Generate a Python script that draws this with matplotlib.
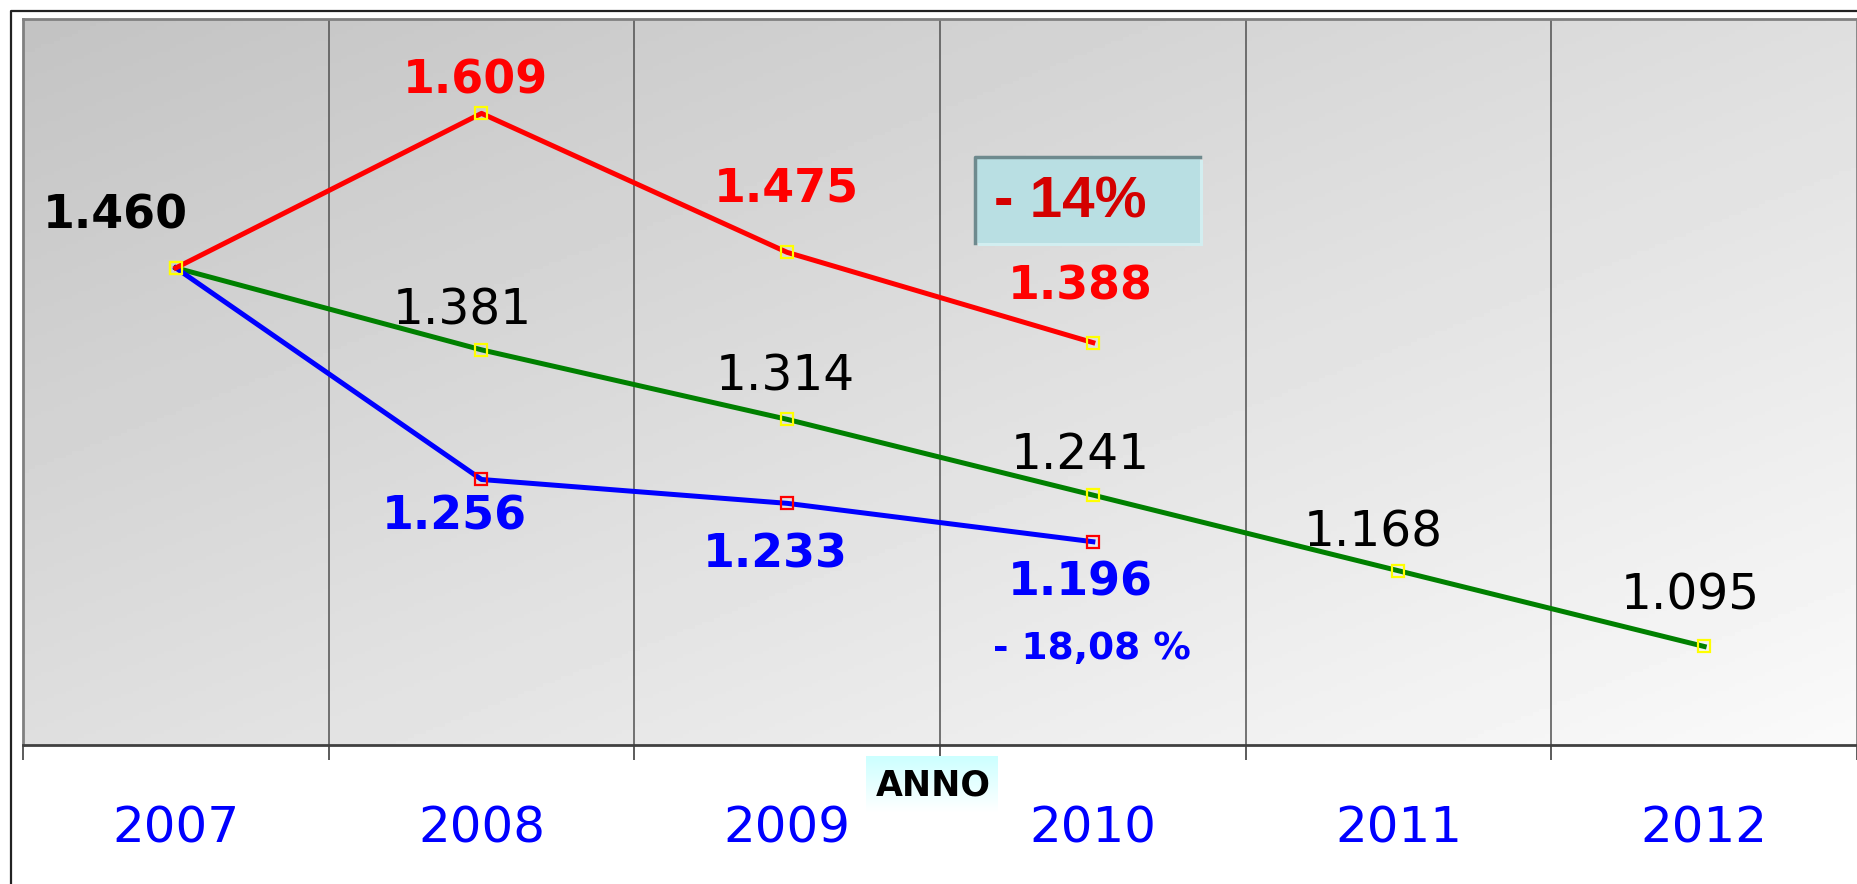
import numpy as np
import matplotlib.pyplot as plt
from matplotlib.patches import Rectangle
from matplotlib.lines import Line2D

plt.rcParams['font.family'] = ['DejaVu Sans']

years = ['2007', '2008', '2009', '2010', '2011', '2012']
red_vals = [1.460, 1.609, 1.475, 1.388]
green_vals = [1.460, 1.381, 1.314, 1.241, 1.168, 1.095]
blue_vals = [1.460, 1.256, 1.233, 1.196]

# label offsets in pixels (dx, dy) from the point
red_off = [None, (-6, 32), (-1, 63), (-13, 56)]
green_off = [(-60, 52), (-19, 39), (-2, 43), (-13, 40), (-25, 38), (-14, 51)]
blue_off = [None, (-27, -38), (-12, -52), (-13, -41)]

W, H = 1858, 884
fig = plt.figure(figsize=(W / 100, H / 100), dpi=100)


def px(x, y):
    return x / W, 1 - y / H


ax = fig.add_axes([23 / W, 1 - 745 / H, (1857 - 23) / W, (745 - 19) / H])
ax.set_xlim(-0.5, 5.5)
ax.set_ylim(1.0, 1.7)

# diagonal grey gradient background, dark top-left -> light bottom-right
gx, gy = np.meshgrid(np.linspace(0, 1, 300), np.linspace(0, 1, 200))
grad = 195 + (gx + gy) / 2 * 55
ax.imshow(grad, cmap='gray', vmin=0, vmax=255, extent=[0, 1, 0, 1], origin='upper',
          transform=ax.transAxes, aspect='auto', zorder=0)

for b in np.arange(0.5, 5.5, 1):
    ax.axvline(b, color='#505050', lw=1.1, zorder=1)

x = np.arange(len(years))
ax.plot(x[:len(green_vals)], green_vals, color='#008000', lw=3.6, marker='s',
        ms=9, mfc='none', mec='#ffff00', mew=1.6, zorder=3)
ax.plot(x[:len(blue_vals)], blue_vals, color='#0000ff', lw=3.6, marker='s',
        ms=9, mfc='none', mec='#ff0000', mew=1.6, markevery=slice(1, None), zorder=4)
ax.plot(x[:len(red_vals)], red_vals, color='#ff0000', lw=3.6, marker='s',
        ms=9, mfc='none', mec='#ffff00', mew=1.6, zorder=5)

for i, v in enumerate(green_vals):
    bold = i == 0
    ax.annotate(f'{v:.3f}', (x[i], v), xytext=green_off[i], textcoords='offset pixels',
                ha='center', va='center', fontsize=33 if bold else 35, color='black',
                fontweight='bold' if bold else 'normal', zorder=6)
for i, v in enumerate(red_vals):
    if red_off[i] is None:
        continue
    ax.annotate(f'{v:.3f}', (x[i], v), xytext=red_off[i], textcoords='offset pixels',
                ha='center', va='center', fontsize=33, color='#ff0000',
                fontweight='bold', zorder=6)
for i, v in enumerate(blue_vals):
    if blue_off[i] is None:
        continue
    ax.annotate(f'{v:.3f}', (x[i], v), xytext=blue_off[i], textcoords='offset pixels',
                ha='center', va='center', fontsize=33, color='#0000ff',
                fontweight='bold', zorder=6)
ax.annotate('- 18,08 %', (x[3], blue_vals[3]), xytext=(-1, -107), textcoords='offset pixels',
            ha='center', va='center', fontsize=27, color='#0000ff', fontweight='bold', zorder=6)

# axes styling
for s in ['left', 'top', 'right']:
    ax.spines[s].set_color('#808080')
    ax.spines[s].set_linewidth(2)
ax.spines['bottom'].set_color('#404040')
ax.spines['bottom'].set_linewidth(2)
ax.set_yticks([])
ax.set_xticks(x)
ax.set_xticklabels(years, color='#0000ff', fontsize=36)
ax.set_xticks(np.arange(-0.5, 6, 1), minor=True)
ax.tick_params(axis='x', which='major', length=0, pad=43)
ax.tick_params(axis='x', which='minor', length=11, width=1.2, color='#404040')

# "- 14%" box
fig.patches.append(Rectangle(px(978, 246), 225 / W, 86 / H, transform=fig.transFigure,
                             facecolor='#d2eef0', edgecolor='none', zorder=7))
fig.patches.append(Rectangle(px(975, 243), 225 / W, 86 / H, transform=fig.transFigure,
                             facecolor='#b9dfe3', edgecolor='none', zorder=8))
fig.lines.append(Line2D([975 / W, 975 / W, 1200 / W], [1 - 243 / H, 1 - 157 / H, 1 - 157 / H],
                        transform=fig.transFigure, color='#6e8a8e', lw=2.5, zorder=9))
fig.text(*px(1070, 202), '- 14%', ha='center', va='center', fontsize=42,
         fontweight='bold', color='#d40000', family=['Liberation Sans', 'DejaVu Sans'],
         zorder=10)

# "ANNO" label with light cyan gradient box
bx = fig.add_axes([866 / W, 1 - 812 / H, 132 / W, 56 / H])
cg = np.linspace(0, 1, 100)[:, None] * np.ones((1, 10))
rgb = np.stack([0.8 + 0.2 * cg, np.ones_like(cg), np.ones_like(cg)], axis=-1)
bx.imshow(rgb, aspect='auto', extent=[0, 1, 0, 1])
bx.axis('off')
fig.text(*px(933, 786), 'ANNO', ha='center', va='center', fontsize=25,
         fontweight='bold', color='black')

# outer frame
fig.lines.append(Line2D([11 / W, 11 / W, 1], [0, 1 - 11 / H, 1 - 11 / H],
                        transform=fig.transFigure, color='#222222', lw=1.6))

fig.savefig('out.png', dpi=100)
